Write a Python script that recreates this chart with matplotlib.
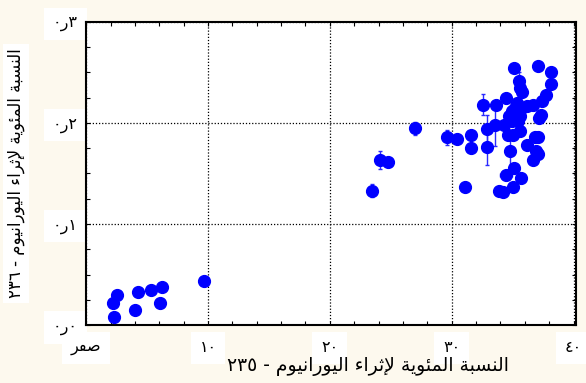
import matplotlib
matplotlib.use("Agg")
import matplotlib.pyplot as plt
from matplotlib.ticker import MultipleLocator

# enrichment U-235 (%) vs U-236 (%)
x_vals = [2.56, 2.18, 2.28, 4.25, 4.00, 5.35, 6.22, 6.06, 9.67,
          23.46, 24.10, 24.78, 26.97, 29.62, 30.44, 31.08, 31.54, 31.54,
          32.53, 32.86, 32.86, 33.62, 33.56, 34.44, 34.30, 34.58, 34.77,
          35.10, 35.48, 35.62, 35.73, 35.32, 35.18, 34.91, 35.59, 35.04,
          35.59, 34.71, 35.45, 34.91, 34.99, 35.59, 36.14, 36.68, 37.04,
          38.14, 38.14, 37.70, 37.37, 37.32, 37.18, 36.82, 37.09, 36.14,
          36.91, 37.04, 36.68, 35.10, 34.44, 35.67, 34.99, 33.84, 34.17]
y_vals = [0.030, 0.022, 0.0076, 0.0327, 0.0149, 0.035, 0.0374, 0.0218, 0.0439,
          0.1328, 0.1635, 0.1615, 0.1946, 0.1858, 0.1838, 0.1363, 0.1880, 0.1757,
          0.2180, 0.1940, 0.1761, 0.2180, 0.1982, 0.2247, 0.1982, 0.1883, 0.1718,
          0.2544, 0.2418, 0.2346, 0.2302, 0.2197, 0.2148, 0.2114, 0.2131, 0.2064,
          0.2064, 0.2064, 0.2015, 0.2015, 0.1883, 0.1916, 0.2170, 0.2180, 0.2560,
          0.2500, 0.2382, 0.2280, 0.2213, 0.2081, 0.2049, 0.1860, 0.1860, 0.1784,
          0.1727, 0.1692, 0.1635, 0.1553, 0.1484, 0.1454, 0.1371, 0.1328, 0.1315]
y_err = [0, 0, 0, 0, 0, 0, 0, 0, 0,
         0.0064, 0.0086, 0, 0.0066, 0.0074, 0, 0, 0, 0,
         0.0104, 0.014, 0.018, 0, 0.021, 0, 0, 0, 0.015,
         0, 0.0083, 0, 0, 0, 0, 0, 0, 0,
         0, 0, 0, 0, 0, 0, 0, 0, 0,
         0, 0, 0, 0, 0, 0, 0, 0, 0,
         0, 0, 0, 0, 0, 0, 0, 0, 0]
x_err = [0] * 58 + [0.5] + [0] * 4

x_ticks = [0, 10, 20, 30, 40]
x_ticklabels = ["صفر", "١٠", "٢٠", "٣٠", "٤٠"]
y_ticks = [0.0, 0.1, 0.2, 0.3]
y_ticklabels = ["٠ر٠", "٠ر١", "٠ر٢", "٠ر٣"]
x_title = "النسبة المئوية لإثراء اليورانيوم - ٢٣٥"
y_title = "النسبة المئوية لإثراء اليورانيوم - ٢٣٦"

# minimal arabic shaping (matplotlib has no bidi / joining)
FORMS = {
    'ا': ('\uFE8D', '\uFE8E', None, None),
    'إ': ('\uFE87', '\uFE88', None, None),
    'ب': ('\uFE8F', '\uFE90', '\uFE91', '\uFE92'),
    'ة': ('\uFE93', '\uFE94', None, None),
    'ث': ('\uFE99', '\uFE9A', '\uFE9B', '\uFE9C'),
    'ر': ('\uFEAD', '\uFEAE', None, None),
    'س': ('\uFEB1', '\uFEB2', '\uFEB3', '\uFEB4'),
    'ص': ('\uFEB9', '\uFEBA', '\uFEBB', '\uFEBC'),
    'ف': ('\uFED1', '\uFED2', '\uFED3', '\uFED4'),
    'ل': ('\uFEDD', '\uFEDE', '\uFEDF', '\uFEE0'),
    'م': ('\uFEE1', '\uFEE2', '\uFEE3', '\uFEE4'),
    'ن': ('\uFEE5', '\uFEE6', '\uFEE7', '\uFEE8'),
    'و': ('\uFEED', '\uFEEE', None, None),
    'ي': ('\uFEF1', '\uFEF2', '\uFEF3', '\uFEF4'),
    'ئ': ('\uFE89', '\uFE8A', '\uFE8B', '\uFE8C'),
    'ء': ('\uFE80', None, None, None),
}
LAM_ALEF = {'ا': ('\uFEFB', '\uFEFC'), 'إ': ('\uFEF9', '\uFEFA')}


def joins_left(ch):
    return ch in FORMS and FORMS[ch][2] is not None


def shape_word(word):
    out = []
    i = 0
    while i < len(word):
        ch = word[i]
        prev = word[i - 1] if i > 0 else None
        after_join = prev is not None and joins_left(prev)
        if ch == 'ل' and i + 1 < len(word) and word[i + 1] in LAM_ALEF:
            out.append(LAM_ALEF[word[i + 1]][1 if after_join else 0])
            i += 2
            continue
        if ch not in FORMS:
            out.append(ch)
            i += 1
            continue
        nxt = word[i + 1] if i + 1 < len(word) else None
        before_join = joins_left(ch) and nxt in FORMS
        iso, fin, ini, med = FORMS[ch]
        if after_join and before_join:
            out.append(med)
        elif after_join:
            out.append(fin or iso)
        elif before_join:
            out.append(ini)
        else:
            out.append(iso)
        i += 1
    return ''.join(reversed(out))


def arabic(text):
    words = []
    for w in text.split(' '):
        if any(c in FORMS for c in w):
            words.append(shape_word(w))
        else:
            words.append(w)
    return ' '.join(reversed(words))


fig = plt.figure(figsize=(5.86, 3.83), dpi=100, facecolor='#fdf9ee')
ax = fig.add_axes([0.147, 0.151, 0.836, 0.792])
ax.set_facecolor('white')

ax.errorbar(x_vals, y_vals, yerr=y_err, xerr=x_err, fmt='o', color='#0000ff',
            markersize=8.5, ecolor='#2a2aff', elinewidth=1, capsize=1.5, zorder=3)

ax.set_xlim(0, 40.2)
ax.set_ylim(0, 0.3)
ax.set_xticks(x_ticks)
ax.set_yticks(y_ticks)
ax.xaxis.set_minor_locator(MultipleLocator(2))
ax.yaxis.set_minor_locator(MultipleLocator(0.025))
ax.tick_params(which='both', direction='in', top=True, right=True,
               length=3, width=0.8, colors='black')
ax.tick_params(axis='x', pad=11)
ax.tick_params(axis='y', pad=6)

box = dict(facecolor='white', edgecolor='none', boxstyle='square,pad=0.55')
ax.set_xticklabels([arabic(t) for t in x_ticklabels], family='DejaVu Sans',
                   fontsize=11.5, bbox=box)
ax.set_yticklabels(y_ticklabels, family='DejaVu Sans', fontsize=11.5, bbox=box)

ax.grid(True, which='major', color='black', linestyle=(0, (1, 1.5)), linewidth=0.9)
for s in ax.spines.values():
    s.set_linewidth(1.5)
    s.set_color('black')

ax.set_xlabel(arabic(x_title), family='DejaVu Sans', fontsize=13.5)
ax.xaxis.set_label_coords(0.575, -0.105)
ax.set_ylabel(arabic(y_title), family='DejaVu Sans', fontsize=12,
              bbox=dict(facecolor='white', edgecolor='none', pad=3))
ax.yaxis.set_label_coords(-0.125, 0.5)

fig.savefig('out.png', dpi=100, facecolor=fig.get_facecolor())
